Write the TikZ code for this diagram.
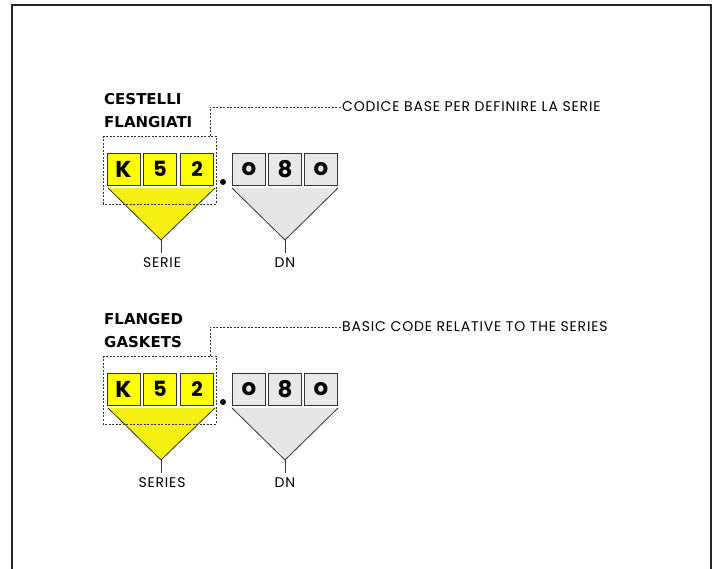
\documentclass[tikz,border=0pt]{standalone}
\usepackage{fontspec}
\setmainfont{Poppins}
\newfontfamily\titlefont{DejaVu Sans}
\definecolor{ybox}{HTML}{FFFF00}
\definecolor{ytri}{HTML}{F5F010}
\definecolor{gbox}{HTML}{E8E8E8}
\definecolor{gtri}{HTML}{E6E6E6}
\definecolor{edge}{HTML}{333333}
\tikzset{
  digit/.style={draw=edge, line width=0.9pt, minimum width=33pt, minimum height=32pt, inner sep=0pt, font=\fontsize{23}{23}\selectfont\bfseries},
  ydigit/.style={digit, fill=ybox},
  gdigit/.style={digit, fill=gbox},
  title/.style={font=\titlefont\fontsize{15}{23}\selectfont\bfseries, align=left, anchor=north west, inner sep=0pt},
  lbl/.style={font=\addfontfeature{LetterSpace=6}\fontsize{14}{16}\selectfont, inner sep=0pt},
  leader/.style={dashed, dash pattern=on 2pt off 1.5pt, line width=0.6pt, draw=edge},
  stem/.style={line width=0.8pt, draw=edge}
}
\newcommand{\codegroup}[4]{%
  % #1 y offset, #2 title, #3 leader text, #4 left label
  \begin{scope}[yshift=-#1]
    \node[title] (t#1) at (104,93) {#2};
    % triangles
    \coordinate (ya#1) at (161,240);
    \coordinate (yl#1) at (108,188);
    \coordinate (yr#1) at (215,188);
    \fill[ytri] (yl#1) -- (yr#1) -- (ya#1) -- cycle;
    \draw[stem] (yl#1) -- (ya#1) -- (yr#1);
    \coordinate (ys#1) at (161,253);
    \draw[stem] (ya#1) -- (ys#1);
    \coordinate (ga#1) at (285,240);
    \coordinate (gl#1) at (232,188);
    \coordinate (gr#1) at (338,188);
    \fill[gtri] (gl#1) -- (gr#1) -- (ga#1) -- cycle;
    \draw[stem] (gl#1) -- (ga#1) -- (gr#1);
    \coordinate (gs#1) at (285,253);
    \draw[stem] (ga#1) -- (gs#1);
    % digit boxes
    \node[ydigit] (k#1) at (123.5,169) {K};
    \node[ydigit] (f#1) at (160,169) {\raisebox{-4pt}{\fontsize{21}{21}\selectfont 5}};
    \node[ydigit] (s#1) at (197,169) {\raisebox{-1pt}{\fontsize{20}{20}\selectfont 2}};
    \node[gdigit] (a#1) at (249,169) {\raisebox{-1pt}{o}};
    \node[gdigit] (b#1) at (285,169) {8};
    \node[gdigit] (c#1) at (321,169) {\raisebox{-1pt}{o}};
    \fill[black] (223,182) circle (3pt);
    % dashed box and leader
    \draw[leader] (103,136) rectangle (216,204);
    \node[lbl, anchor=west] (d#1) at (342,107) {#3};
    \coordinate (lc#1) at (210,136);
    \draw[leader] (lc#1) |- (d#1.west);
    \node[lbl] (sl#1) at (162,263) {#4};
    \node[lbl] (dn#1) at (285,263) {DN};
  \end{scope}}
\begin{document}
\begin{tikzpicture}[x=1pt,y=-1pt]
\useasboundingbox (0,0) rectangle (718,569);
\fill[white] (0,0) rectangle (718,569);
\draw[line width=1.2pt, draw=black!85] (12,575) -- (12,5) -- (711,5) -- (711,575);
\codegroup{0}{CESTELLI\\FLANGIATI}{CODICE BASE PER DEFINIRE LA SERIE}{SERIE}
\codegroup{220}{FLANGED\\GASKETS}{BASIC CODE RELATIVE TO THE SERIES}{SERIES}
\end{tikzpicture}
\end{document}
